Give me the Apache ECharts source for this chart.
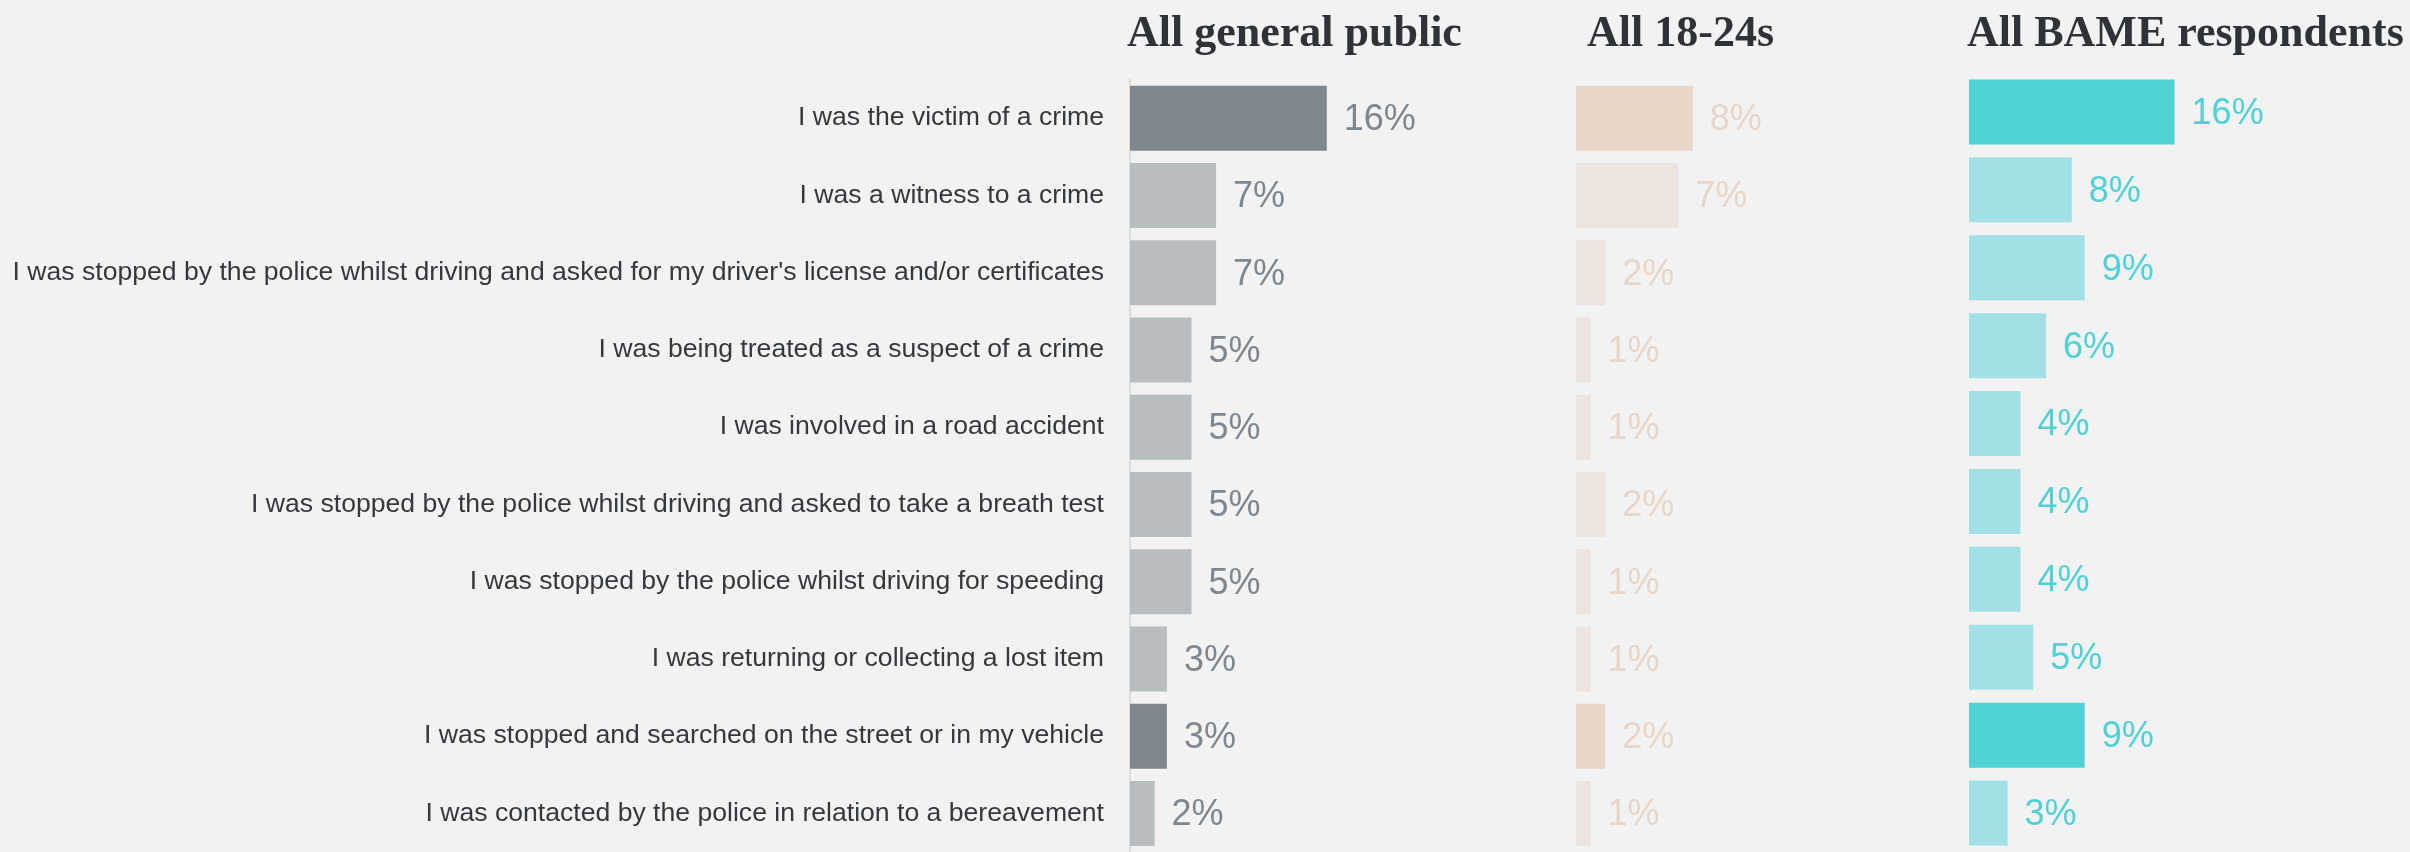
<!DOCTYPE html>
<html>
<head>
<meta charset="utf-8">
<script src="https://cdn.jsdelivr.net/npm/echarts@6/dist/echarts.min.js"></script>
<style>
  html, body { margin: 0; padding: 0; background: #f2f2f2; }
  #chart { width: 2410px; height: 852px; }
</style>
</head>
<body>
<div id="chart"></div>
<script>
  // categories, top to bottom
  const categories = [
    'I was the victim of a crime',
    'I was a witness to a crime',
    "I was stopped by the police whilst driving and asked for my driver's license and/or certificates",
    'I was being treated as a suspect of a crime',
    'I was involved in a road accident',
    'I was stopped by the police whilst driving and asked to take a breath test',
    'I was stopped by the police whilst driving for speeding',
    'I was returning or collecting a lost item',
    'I was stopped and searched on the street or in my vehicle',
    'I was contacted by the police in relation to a bereavement'
  ];

  const panelTitles = ['All general public', 'All 18-24s', 'All BAME respondents'];

  // values in %
  const generalPublic = [16, 7, 7, 5, 5, 5, 5, 3, 3, 2];
  const age18to24 = [8, 7, 2, 1, 1, 2, 1, 1, 2, 1];
  const bame = [16, 8, 9, 6, 4, 4, 4, 5, 9, 3];

  // rows drawn in the stronger colour
  const highlightRows = [0, 8];

  const chart = echarts.init(document.getElementById('chart'));

  const panels = [
    { data: generalPublic, left: 1130, width: 246, top: 79.5, height: 782, strong: '#7f878e', soft: '#b8bdc0', label: '#7f878e', titleLeft: 1127 },
    { data: age18to24, left: 1576, width: 292, top: 79.5, height: 777.5, strong: '#e8d6c8', soft: '#ede4df', label: '#e8d6c8', titleLeft: 1587 },
    { data: bame, left: 1969, width: 257, top: 73, height: 781, strong: '#4fd1d6', soft: '#a1e0e4', label: '#4fd1d6', titleLeft: 1967 }
  ];

  const grid = [], xAxis = [], yAxis = [], series = [], title = [];

  panels.forEach((p, i) => {
    grid.push({ left: p.left, top: p.top, width: p.width, height: p.height, containLabel: false });
    xAxis.push({ gridIndex: i, type: 'value', min: 0, max: 20, show: false });
    yAxis.push({
      gridIndex: i,
      type: 'category',
      inverse: true,
      data: categories,
      axisTick: { show: false },
      axisLine: { show: i === 0, lineStyle: { color: '#d6d6d6', width: 1.5 } },
      axisLabel: {
        show: i === 0,
        margin: 26,
        fontSize: 26.6,
        color: '#35383c',
        fontFamily: '"Liberation Sans", Arial, sans-serif'
      }
    });
    series.push({
      type: 'bar',
      xAxisIndex: i,
      yAxisIndex: i,
      barWidth: 65,
      data: p.data,
      itemStyle: {
        color: (params) => highlightRows.includes(params.dataIndex) ? p.strong : p.soft
      },
      label: {
        show: true,
        position: 'right',
        distance: 16,
        offset: [1, 2],
        formatter: '{c}%',
        fontSize: 36,
        color: p.label,
        fontFamily: '"Liberation Sans", Arial, sans-serif'
      },
      silent: true
    });
    title.push({
      text: panelTitles[i],
      left: p.titleLeft,
      top: 13,
      padding: 0,
      textStyle: {
        fontFamily: '"Liberation Serif", Georgia, serif',
        fontWeight: 'bold',
        fontSize: 44,
        color: '#2f3237'
      }
    });
  });

  chart.setOption({
    backgroundColor: '#f2f2f2',
    animation: false,
    title,
    grid,
    xAxis,
    yAxis,
    series
  });
</script>
</body>
</html>
